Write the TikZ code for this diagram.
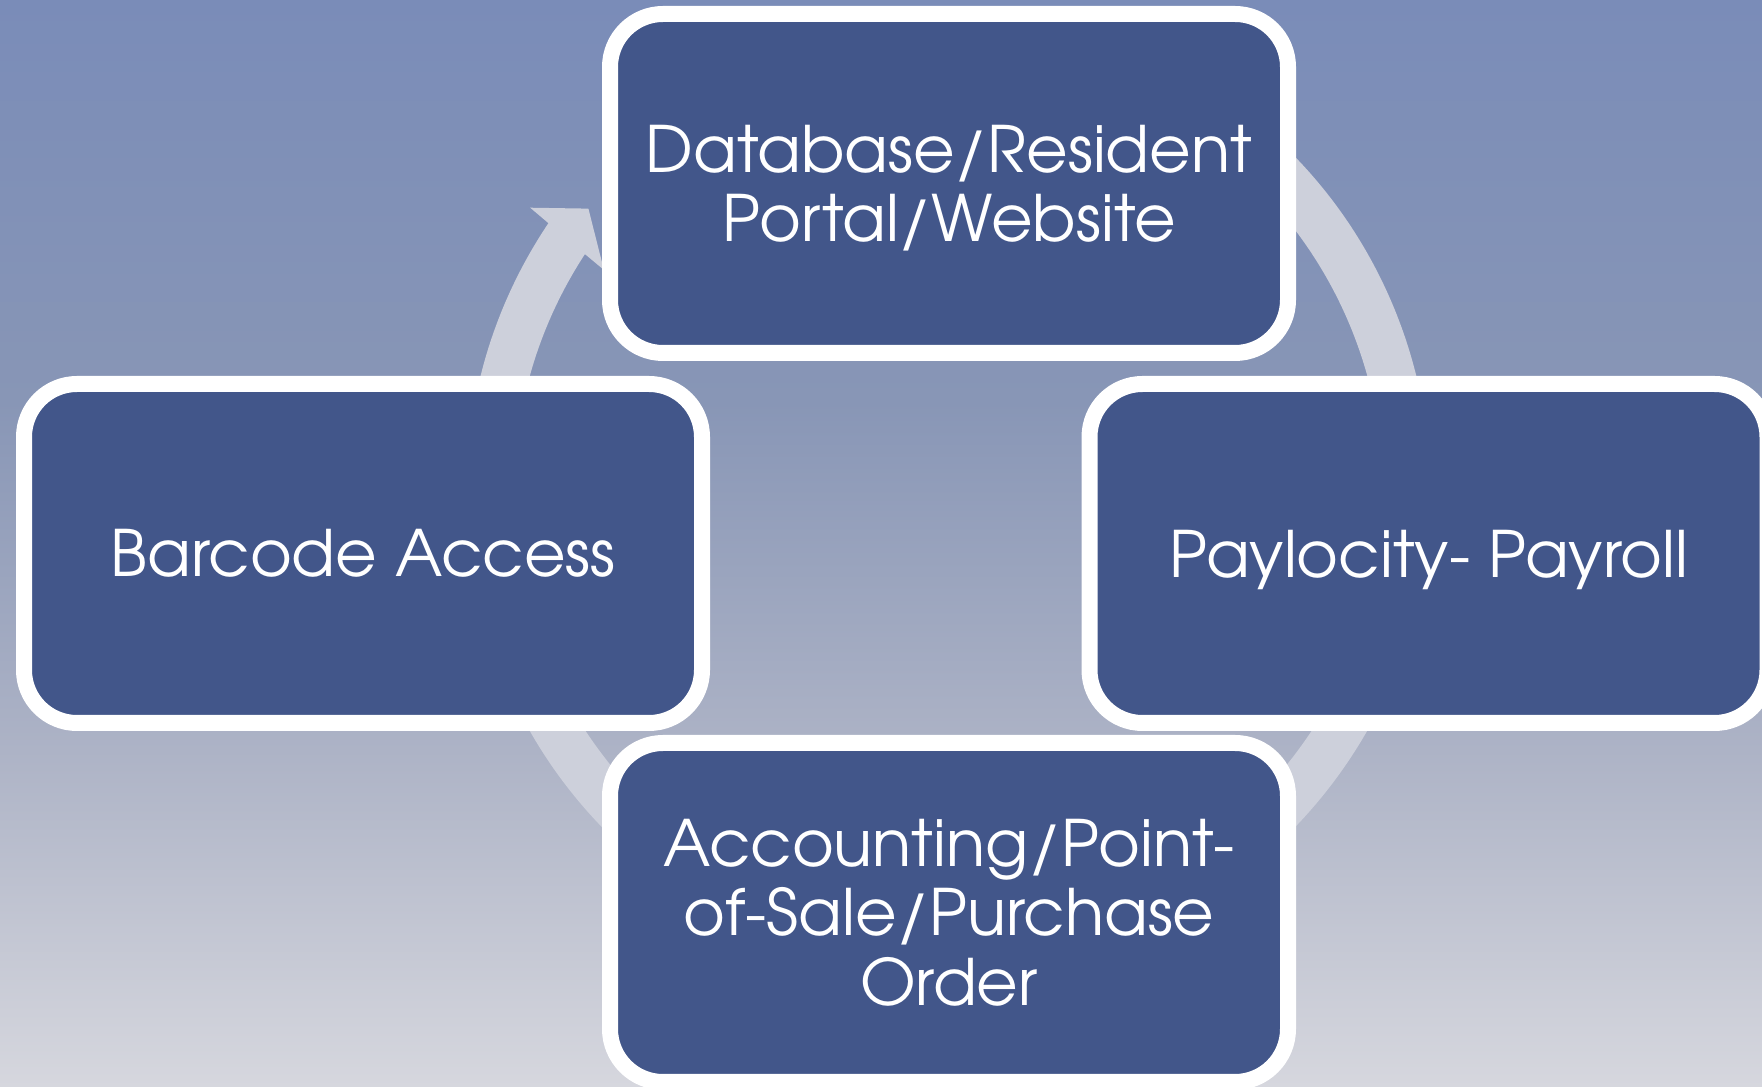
\documentclass[tikz,border=0pt]{standalone}
\usepackage{fontspec}
\setmainfont{TeX Gyre Adventor}
\definecolor{bgA}{RGB}{122,140,184}
\definecolor{bgB}{RGB}{136,150,182}
\definecolor{bgC}{RGB}{173,179,198}
\definecolor{bgD}{RGB}{214,215,222}
\definecolor{boxfill}{RGB}{66,86,138}
\definecolor{ringcol}{RGB}{205,208,219}
\pgfdeclareverticalshading{bgshade}{100bp}{color(0bp)=(bgD); color(25bp)=(bgD); color(40.5bp)=(bgC); color(56.5bp)=(bgB); color(75bp)=(bgA); color(100bp)=(bgA)}
\tikzset{
  stage/.style={rectangle, rounded corners=53pt, draw=white, line width=16pt,
    fill=boxfill, minimum width=678pt, minimum height=339pt, inner sep=0pt,
    text=white, align=center, font=\fontsize{64}{69.5}\selectfont},
  ring/.style={fill=ringcol}
}
\begin{document}
\begin{tikzpicture}[x=1pt,y=1pt]
\useasboundingbox (0,0) rectangle (1762,1087);
\clip (0,0) rectangle (1762,1087);
\shade[shading=bgshade] (0,0) rectangle (1762,1087);
% circular arrow
\coordinate (c) at (948.5,595);
\fill[ring, shift={(c)}] (141.8:458.25) -- (145.8:505.8) -- (146.1:482)
  arc[start angle=146.1, end angle=490, radius=482] -- (490:434.5)
  arc[start angle=490, end angle=146.8, radius=434.5] -- (147.2:410) -- cycle;
% stages
\node[stage] (db)  at (949,903.5)   {Database/Resident\\\raisebox{0pt}[\height][0pt]{Portal/Website}};
\node[stage] (bc)  at (363,533.5)   {Barcode Access};
\node[stage] (pay) at (1428.5,533.5) {\raisebox{0pt}[\height][0pt]{Paylocity- Payroll}};
\node[stage] (acc) at (949,174.5)   {Accounting/Point-\\of-Sale/Purchase\\Order};
\end{tikzpicture}
\end{document}
